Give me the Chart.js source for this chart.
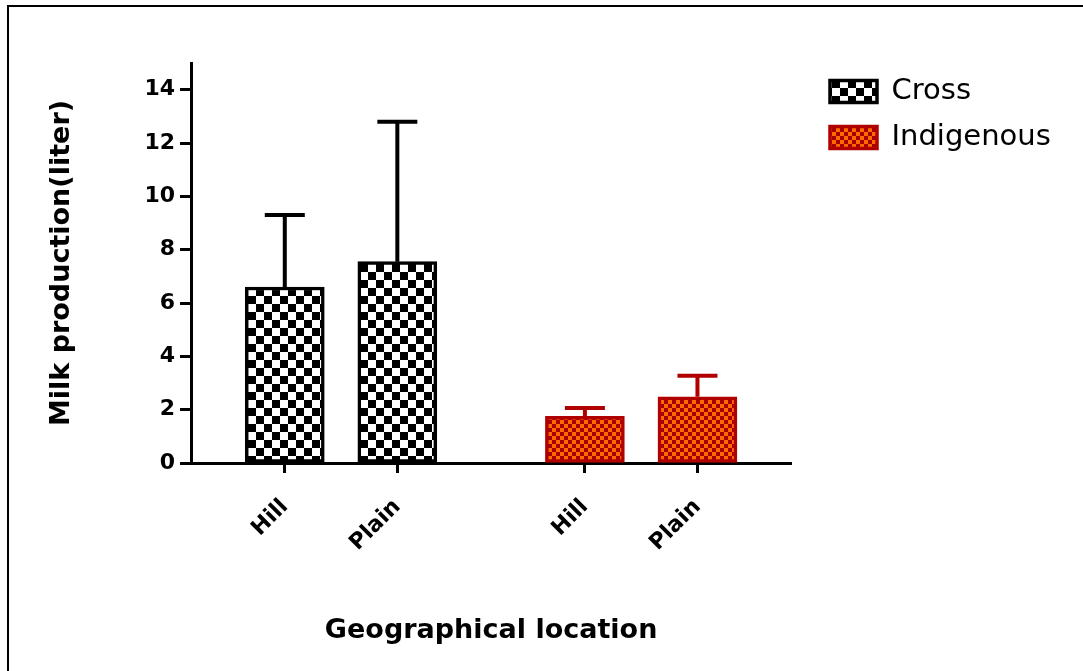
<!DOCTYPE html>
<html>
<head>
<meta charset="utf-8">
<script src="https://cdn.jsdelivr.net/npm/chart.js@4"></script>
<style>
  html, body { margin: 0; padding: 0; background: #fff; }
  #frame { position: absolute; left: 7px; top: 5px; right: -5px; bottom: -5px; border-top: 2.5px solid #000; border-left: 2.5px solid #000; }
  #c { position: absolute; left: 0; top: 0; }
</style>
</head>
<body>
<div id="frame"></div>
<canvas id="c" width="1083" height="671"></canvas>
<script>
// ---- data ----
const categories = ['Hill', 'Plain'];
const groups = ['Cross', 'Indigenous'];
const crossMeans = [6.6, 7.55];
const crossSD = [2.7, 5.25];
const indigenousMeans = [1.75, 2.48];
const indigenousSD = [0.31, 0.79];
const yTickValues = [0, 2, 4, 6, 8, 10, 12, 14];

// ---- layout helpers (not data) ----
function slotOf(g, i) { return 2.5 + 8 * g + 3 * i; }
const xTickValues = [];
const xTickLabels = [];
groups.forEach((g, gi) => categories.forEach((c, ci) => { xTickValues.push(slotOf(gi, ci)); xTickLabels.push(c); }));

function checker(cell, c1, c2) {
  const t = document.createElement('canvas');
  t.width = cell * 2; t.height = cell * 2;
  const x = t.getContext('2d');
  x.fillStyle = c1; x.fillRect(0, 0, cell * 2, cell * 2);
  x.fillStyle = c2; x.fillRect(0, 0, cell, cell); x.fillRect(cell, cell, cell, cell);
  return document.getElementById('c').getContext('2d').createPattern(t, 'repeat');
}
const crossPattern = checker(8, '#ffffff', '#000000');
const indigPattern = checker(4, '#ff6a00', '#a80000');

const errorSets = [crossSD, indigenousSD];

const errorBars = {
  id: 'errorBars',
  afterDatasetsDraw(chart) {
    const ctx = chart.ctx;
    const ys = chart.scales.y;
    chart.data.datasets.forEach((ds, di) => {
      const meta = chart.getDatasetMeta(di);
      meta.data.forEach((el, i) => {
        const v = ds.data[i].y + errorSets[di][i];
        const top = ys.getPixelForValue(v);
        ctx.save();
        ctx.strokeStyle = ds.borderColor;
        ctx.lineWidth = 4;
        ctx.beginPath();
        ctx.moveTo(el.x, el.y);
        ctx.lineTo(el.x, top);
        ctx.moveTo(el.x - 20, top);
        ctx.lineTo(el.x + 20, top);
        ctx.stroke();
        ctx.restore();
      });
    });
  }
};

// shift the legend away from the plot area (gap seen in the reference)
const legendShift = {
  id: 'legendShift',
  afterLayout(chart) {
    const lg = chart.legend;
    if (!lg) return;
    const d = 830 - 17 - lg.left;
    lg.left += d; lg.right += d;
    lg.top -= 3; lg.bottom -= 3;
    if (lg.legendHitBoxes) lg.legendHitBoxes.forEach(h => { h.left += d; h.top -= 3; });
  }
};

const font = 'DejaVu Sans';
new Chart(document.getElementById('c'), {
  type: 'bar',
  data: {
    datasets: [
      {
        label: groups[0],
        data: crossMeans.map((v, i) => ({ x: slotOf(0, i), y: v })),
        backgroundColor: crossPattern,
        borderColor: '#000000',
        borderWidth: 3.5,
        borderSkipped: false,
        barThickness: 79,
        grouped: false
      },
      {
        label: groups[1],
        data: indigenousMeans.map((v, i) => ({ x: slotOf(1, i), y: v })),
        backgroundColor: indigPattern,
        borderColor: '#b00000',
        borderWidth: 3.5,
        borderSkipped: false,
        barThickness: 79,
        grouped: false
      }
    ]
  },
  plugins: [errorBars, legendShift],
  options: {
    responsive: false,
    animation: false,
    devicePixelRatio: 1,
    layout: { padding: { left: 0, top: 63, right: 44, bottom: 20 } },
    plugins: {
      legend: {
        position: 'right',
        align: 'start',
        labels: {
          boxWidth: 47,
          boxHeight: 22,
          padding: 17,
          color: '#000',
          font: { family: font, size: 29 }
        }
      },
      tooltip: { enabled: false }
    },
    scales: {
      x: {
        type: 'linear',
        min: 0,
        max: 16,
        offset: false,
        afterBuildTicks: (axis) => { axis.ticks = xTickValues.map(v => ({ value: v })); },
        afterFit: (s) => { s.height = 188; },
        ticks: {
          callback: (v, idx) => xTickLabels[idx],
          minRotation: 45,
          maxRotation: 45,
          padding: 21,
          color: '#000',
          font: { family: font, size: 22, weight: 'bold' }
        },
        grid: { offset: false, drawOnChartArea: false, drawTicks: true, tickLength: 10, tickWidth: 3, color: '#000' },
        border: { color: '#000', width: 3 },
        title: {
          display: true,
          text: 'Geographical location',
          color: '#000',
          font: { family: font, size: 27, weight: 'bold' }
        }
      },
      y: {
        min: 0,
        max: 15,
        afterBuildTicks: (axis) => { axis.ticks = yTickValues.map(v => ({ value: v })); },
        afterFit: (s) => { s.width = 191; },
        ticks: {
          padding: 5,
          color: '#000',
          font: { family: font, size: 22, weight: 'bold' }
        },
        grid: { drawOnChartArea: false, drawTicks: true, tickLength: 11, tickWidth: 3, color: '#000' },
        border: { color: '#000', width: 3 },
        title: {
          display: true,
          text: 'Milk production(liter)',
          color: '#000',
          padding: { top: 46, bottom: 4 },
          font: { family: font, size: 27, weight: 'bold' }
        }
      }
    }
  }
});
</script>
</body>
</html>
